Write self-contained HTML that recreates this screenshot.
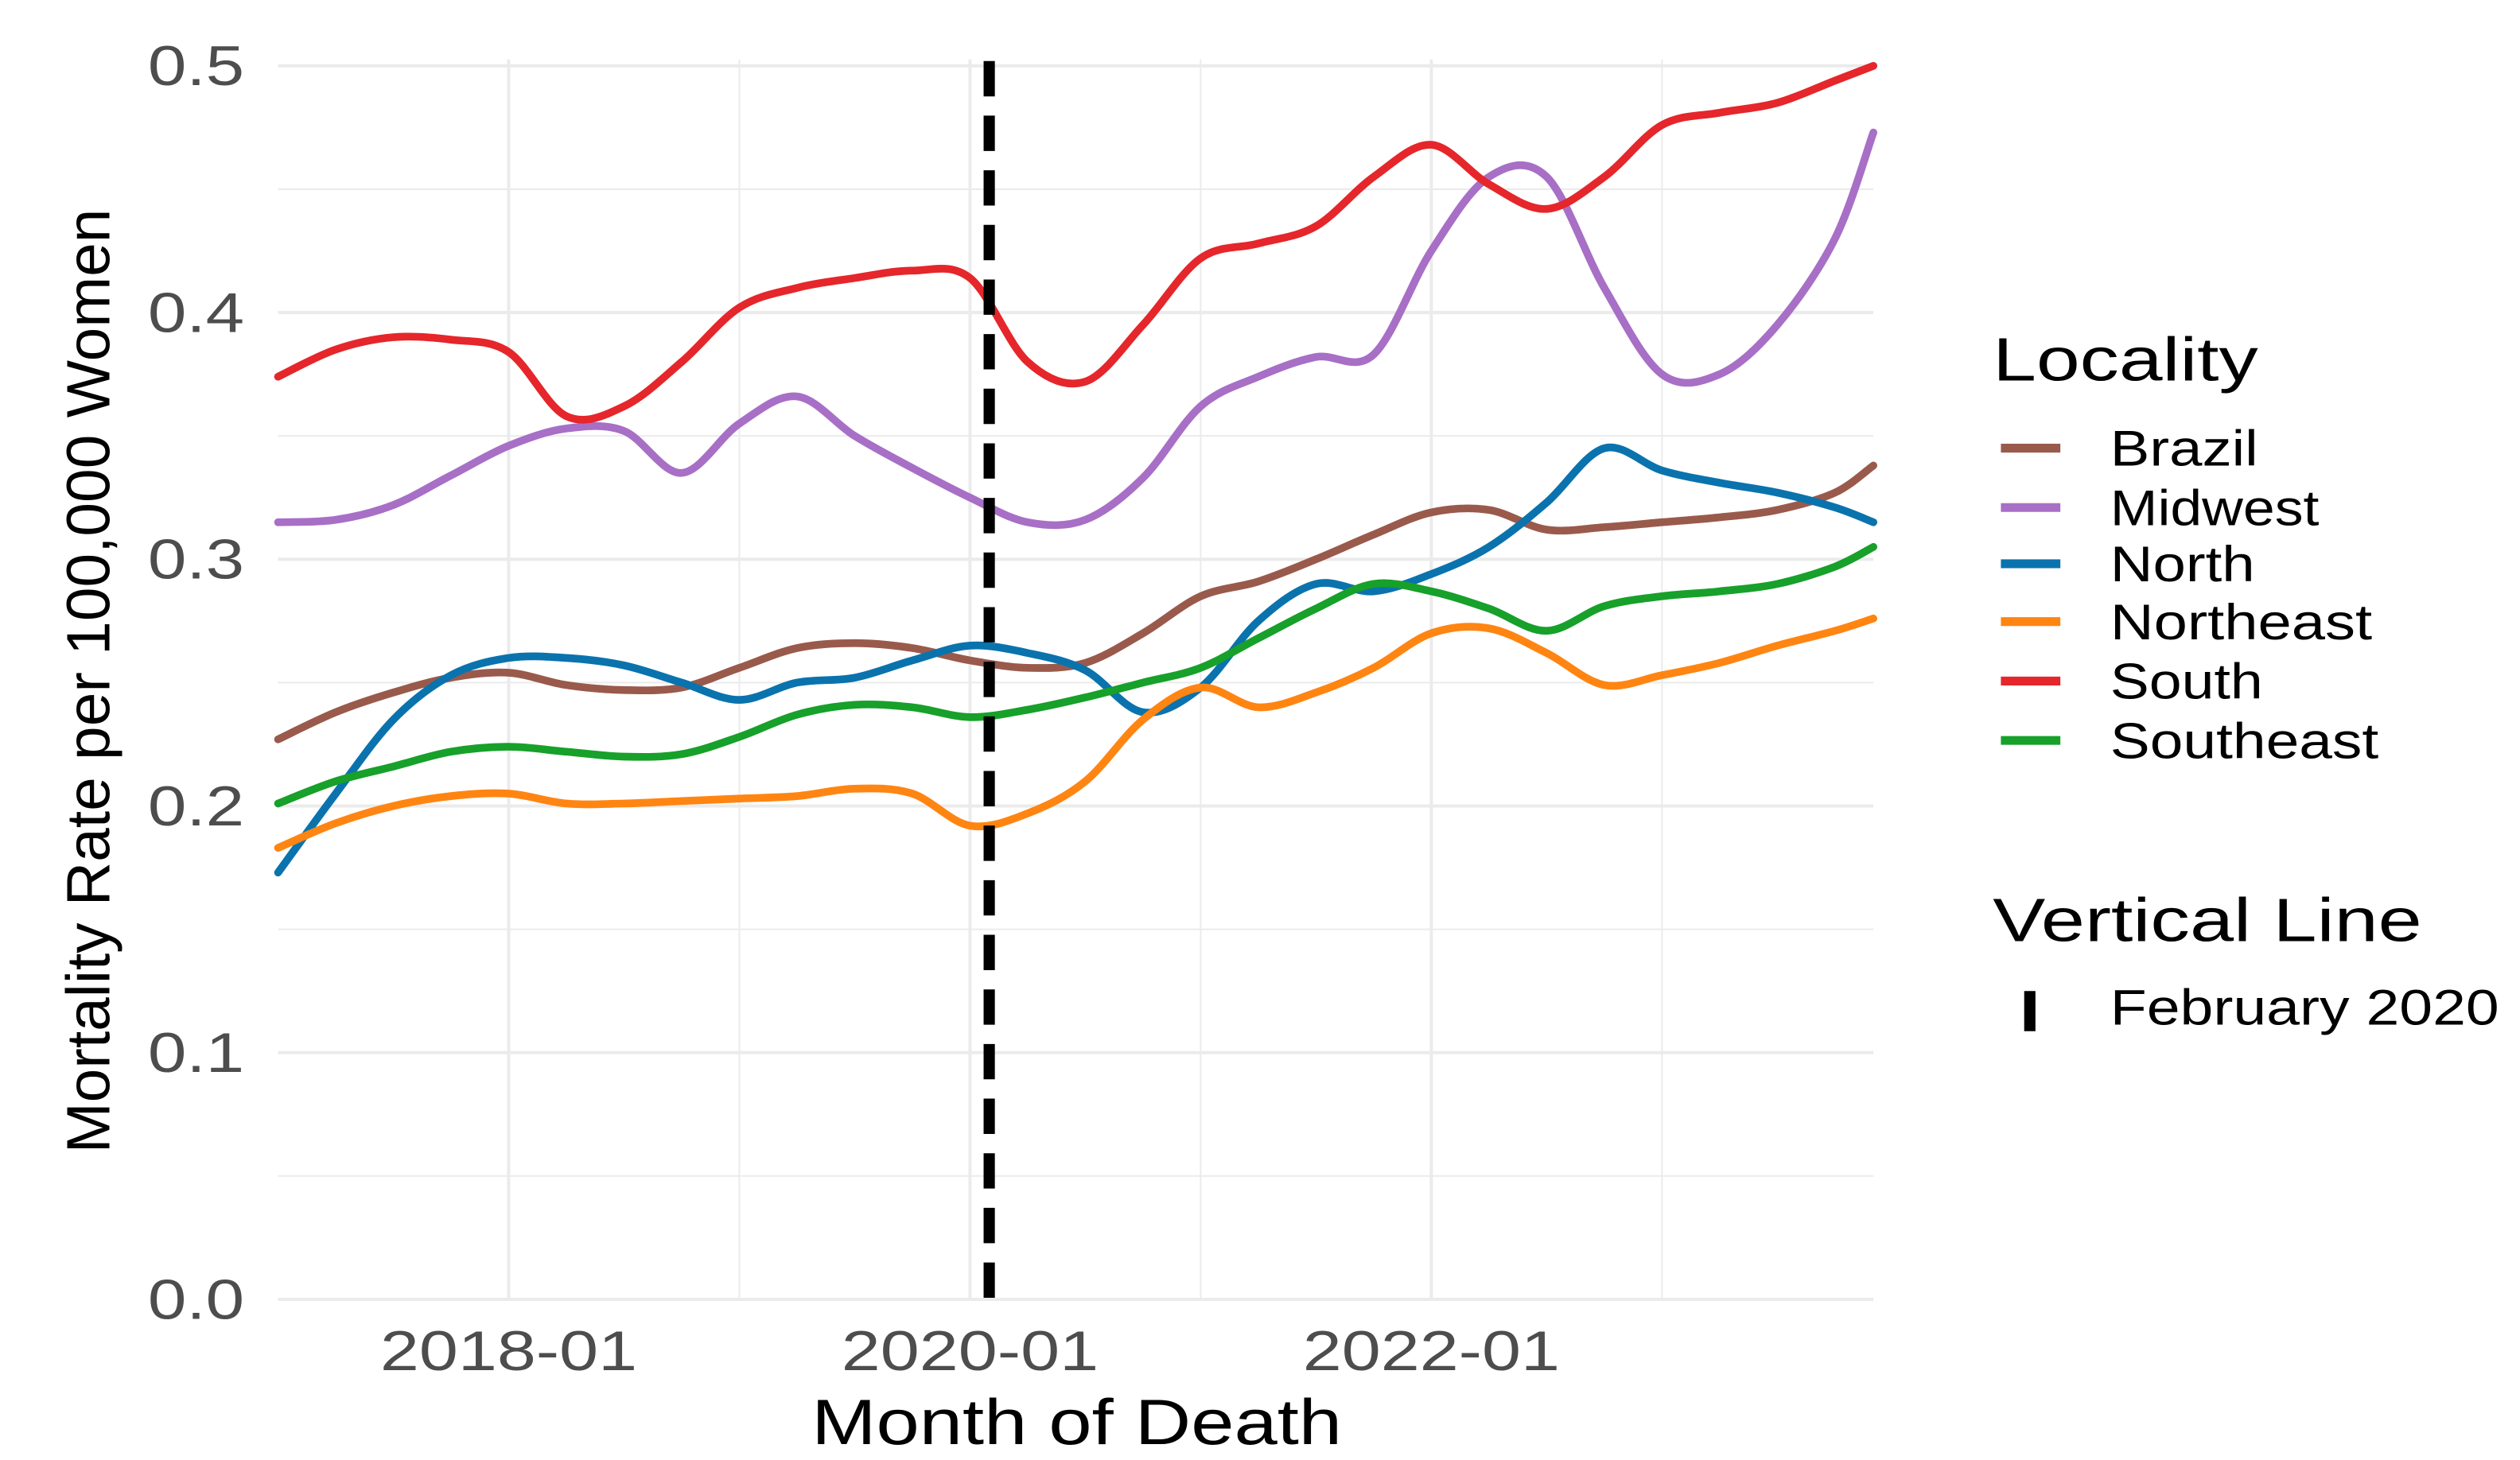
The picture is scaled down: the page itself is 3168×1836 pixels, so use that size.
<!DOCTYPE html>
<html><head><meta charset="utf-8"><style>
html,body{margin:0;padding:0;background:#fff;}
svg{display:block;font-family:"Liberation Sans",Arial,sans-serif;}
</style></head><body>
<svg id="chart" width="3168" height="1836" viewBox="0 0 1568 909" preserveAspectRatio="none" xmlns="http://www.w3.org/2000/svg">
<g id="grid"></g>
<g id="series"></g>
<g id="axes"></g>
<g id="legend"></g>
</svg>
<script>
const months = [0,3,6,9,12,15,18,21,24,27,30,33,36,39,42,45,48,51,54,57,60,63,66,69,72,75,78,81,83];
const seriesNames = ["Brazil","Midwest","North","Northeast","South","Southeast"];
const brazil = [.227,.238,.246,.252,.254,.249,.247,.248,.256,.264,.266,.264,.259,.256,.258,.27,.285,.291,.30,.31,.319,.32,.312,.313,.315,.317,.320,.327,.338];
const midwest = [.315,.316,.322,.334,.346,.353,.352,.335,.355,.366,.350,.337,.325,.315,.316,.333,.362,.374,.382,.383,.425,.455,.455,.41,.375,.375,.395,.43,.473];
const north = [.173,.205,.235,.253,.260,.26,.257,.25,.243,.25,.252,.259,.265,.262,.255,.238,.248,.275,.29,.287,.294,.305,.323,.345,.336,.331,.327,.321,.315];
const northeast = [.183,.193,.200,.204,.205,.201,.201,.202,.203,.204,.207,.205,.192,.197,.21,.235,.248,.24,.246,.256,.27,.272,.262,.249,.253,.258,.265,.271,.276];
const south = [.374,.385,.390,.389,.384,.358,.362,.380,.402,.410,.414,.417,.414,.38,.372,.395,.422,.428,.435,.455,.468,.452,.442,.455,.476,.481,.485,.494,.500];
const southeast = [.201,.21,.216,.222,.224,.222,.220,.221,.228,.237,.241,.240,.236,.239,.244,.25,.256,.268,.28,.29,.287,.28,.271,.281,.285,.287,.29,.297,.305];
const yTicks = [0,0.1,0.2,0.3,0.4,0.5];
const yTickLabels = ["0.0","0.1","0.2","0.3","0.4","0.5"];
const xTicks = [12,36,60];
const xTickLabels = ["2018-01","2020-01","2022-01"];
const vlineMonth = 37;

const NS="http://www.w3.org/2000/svg";
const X0=173, XPM=11.96, Y0=809, YPU=1536;
function xs(m){return X0+XPM*m;}
function ys(v){return Y0-YPU*v;}
function mk(tag,attrs,parent){const e=document.createElementNS(NS,tag);for(const k in attrs)e.setAttribute(k,attrs[k]);parent.appendChild(e);return e;}
const grid=document.getElementById('grid'),ser=document.getElementById('series'),axes=document.getElementById('axes'),leg=document.getElementById('legend');

for(let v=0;v<=0.5001;v+=0.05){
  const major=Math.abs(v*10-Math.round(v*10))<1e-6;
  const l=mk('line',{x1:X0,x2:xs(83),y1:ys(v),y2:ys(v),stroke:'#ebebeb','stroke-width':major?2:1},grid);
  
  
}
for(let m=12;m<84;m+=12){
  const major=xTicks.includes(m);
  const l=mk('line',{x1:xs(m),x2:xs(m),y1:ys(0.5)-4,y2:ys(0),stroke:'#ebebeb','stroke-width':major?2:1},grid);
  
  
}

function pathFor(vals){
  const p=months.map((m,i)=>[xs(m),ys(vals[i])]);
  let d='M'+p[0][0]+','+p[0][1];
  for(let i=0;i<p.length-1;i++){
    const a=p[i-1]||p[i],b=p[i],c=p[i+1],e=p[i+2]||c;
    const c1=[b[0]+(c[0]-a[0])/6,b[1]+(c[1]-a[1])/6],c2=[c[0]-(e[0]-b[0])/6,c[1]-(e[1]-b[1])/6];
    d+=' C'+c1+' '+c2+' '+c;
  }
  return d;
}
const colors=["#995a4c","#a86fc6","#0a73ad","#ff8512","#e5262b","#17a02a"];
const data=[brazil,midwest,north,northeast,south,southeast];
data.forEach((vals,i)=>{
  const p=mk('path',{d:pathFor(vals),fill:'none',stroke:colors[i],'stroke-width':4.8,'stroke-linejoin':'round','stroke-linecap':'round'},ser);
  
  
});
const vl=mk('line',{x1:xs(vlineMonth),x2:xs(vlineMonth),y1:38,y2:Y0,stroke:'#000','stroke-width':7,'stroke-dasharray':'22 12'},ser);



const SA='spacingAndGlyphs';
yTicks.forEach((v,i)=>{
  const t=mk('text',{x:152,y:ys(v)+12,'text-anchor':'end','font-size':35,fill:'#4d4d4d',textLength:60,lengthAdjust:SA},axes);
  t.textContent=yTickLabels[i];
  
  
});
xTicks.forEach((m,i)=>{
  const t=mk('text',{x:xs(m),y:853,'text-anchor':'middle','font-size':35,fill:'#4d4d4d',textLength:160,lengthAdjust:SA},axes);
  t.textContent=xTickLabels[i];
  
  
});
const xt=mk('text',{x:670,y:899,'text-anchor':'middle','font-size':40,fill:'#000',textLength:330,lengthAdjust:SA},axes);
xt.textContent='Month of Death';


const yt=mk('text',{x:0,y:0,'text-anchor':'middle','font-size':38,fill:'#000',textLength:588,lengthAdjust:SA,transform:'translate(68,424) rotate(-90)'},axes);
yt.textContent='Mortality Rate per 100,000 Women';



const lt=mk('text',{x:1240,y:237,'font-size':38,fill:'#000',textLength:165,lengthAdjust:SA},leg);
lt.textContent='Locality';


const keyY=[279,316,351,387,424,461];
const labLen=[92,130,90,163,95,167];
seriesNames.forEach((n,i)=>{
  const g=mk('g',{},leg);
  
  
  mk('line',{x1:1245,x2:1282,y1:keyY[i],y2:keyY[i],stroke:colors[i],'stroke-width':5.5},g);
  const t=mk('text',{x:1313,y:keyY[i]+11,'font-size':31,fill:'#000',textLength:labLen[i],lengthAdjust:SA},g);
  t.textContent=n;
});
const vt=mk('text',{x:1240,y:586,'font-size':38,fill:'#000',textLength:267,lengthAdjust:SA},leg);
vt.textContent='Vertical Line';


const vg=mk('g',{},leg);


mk('line',{x1:1263,x2:1263,y1:617,y2:642,stroke:'#000','stroke-width':7},vg);
const ft=mk('text',{x:1313,y:638,'font-size':31,fill:'#000',textLength:242,lengthAdjust:SA},vg);
ft.textContent='February 2020';
</script>
</body></html>
